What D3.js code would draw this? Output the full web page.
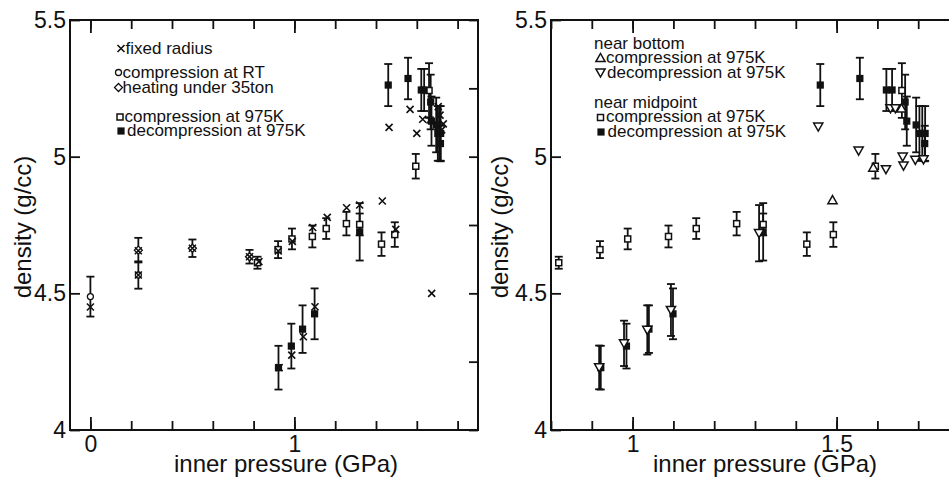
<!DOCTYPE html>
<html><head><meta charset="utf-8">
<script src="https://cdn.jsdelivr.net/npm/d3@7"></script>
<style>
body{margin:0;background:#fff}
svg{display:block}
text{font-family:"Liberation Sans",Arial,Helvetica,sans-serif;fill:#111}
</style>
</head><body>
<svg id="c" width="949" height="479"></svg>
<script>
// ---------- DATA (pressure in GPa, density in g/cc) ----------
const fixedRadiusP = [0, 0.235, 0.235, 0.5, 0.78, 0.826, 0.921, 0.99, 1.09, 1.161, 1.256, 1.32, 1.431, 1.497,
  0.925, 0.987, 1.044, 1.101, 1.464, 1.567, 1.60, 1.629, 1.665, 1.705, 1.714, 1.705, 1.722, 1.73, 1.673];
const fixedRadiusD = [4.45, 4.567, 4.656, 4.665, 4.634, 4.616, 4.655, 4.69, 4.741, 4.778, 4.813, 4.823, 4.838, 4.734,
  4.228, 4.274, 4.341, 4.451, 5.107, 5.173, 5.085, 5.137, 5.134, 5.183, 5.152, 5.11, 5.098, 5.12, 4.5];

const rtP = [0, 0.235];
const rtD = [4.488, 4.567];
const rtE = [0.073, 0.05];

const heatP = [0.235, 0.5, 0.78];
const heatD = [4.658, 4.665, 4.634];
const heatE = [0.045, 0.032, 0.025];

const comp975P = [0.819, 0.92, 0.988, 1.088, 1.156, 1.255, 1.32, 1.427, 1.492, 1.595, 1.66];
const comp975D = [4.612, 4.66, 4.699, 4.708, 4.737, 4.755, 4.752, 4.68, 4.715, 4.965, 5.242];
const comp975E = [0.022, 0.031, 0.038, 0.04, 0.038, 0.043, 0.04, 0.043, 0.045, 0.045, 0.1];

const decomp975P = [1.46, 1.557, 1.622, 1.636, 1.668, 1.672, 1.695, 1.703, 1.71, 1.717, 1.716, 1.32, 1.099, 1.04, 0.985, 0.922];
const decomp975D = [5.262, 5.286, 5.244, 5.244, 5.2, 5.13, 5.116, 5.085, 5.085, 5.085, 5.048, 4.725, 4.425, 4.369, 4.307, 4.228];
const decomp975E = [0.077, 0.076, 0.077, 0.077, 0.1, 0.09, 0.1, 0.1, 0.1, 0.1, 0.065, 0.105, 0.093, 0.087, 0.082, 0.08];

const bottomCompP = [1.49, 1.59, 1.659];
const bottomCompD = [4.841, 4.96, 5.177];

const bottomDecompP = [1.455, 1.554, 1.621, 1.632, 1.644, 1.662, 1.664, 1.693, 1.713, 1.31, 1.094, 1.036, 0.979, 0.918];
const bottomDecompD = [5.11, 5.022, 4.954, 5.177, 5.177, 5.0, 4.967, 4.988, 4.99, 4.72, 4.439, 4.366, 4.317, 4.229];
const bottomDecompE = [null, null, null, null, null, null, null, null, null, 0.103, 0.095, 0.09, 0.083, 0.08];

const yTickLabels = [4, 4.5, 5, 5.5];
const yMinorTicks = [4, 4.25, 4.5, 4.75, 5, 5.25, 5.5];
const leftXLabels = [0, 1];
const leftXMinor = [0, 0.2, 0.4, 0.6, 0.8, 1.0, 1.2, 1.4, 1.6, 1.8];
const rightXLabels = [1, 1.5];
const rightXMinor = [0.8, 0.9, 1.0, 1.1, 1.2, 1.3, 1.4, 1.5, 1.6, 1.7, 1.8];

const xTitle = "inner pressure (GPa)";
const yTitle = "density (g/cc)";

// ---------- SETUP ----------
const svg = d3.select("#c");
const plotTop = 20, plotBottom = 430;
const y = d3.scaleLinear().domain([4, 5.5]).range([plotBottom, plotTop]);
const xL = d3.scaleLinear().domain([-0.1, 1.9]).range([70, 478]);
const xR = d3.scaleLinear().domain([0.8, 1.8]).range([551, 959]);

const FS = 24, TFS = 23;

function marker(g, type, cx, cy) {
  const m = g.append("g").attr("transform", `translate(${cx},${cy})`);
  switch (type) {
    case "x":
      m.append("path").attr("d", "M-3.5,-3.5L3.5,3.5M-3.5,3.5L3.5,-3.5")
        .attr("stroke", "#111").attr("stroke-width", 1.6).attr("fill", "none"); break;
    case "circle":
      m.append("circle").attr("r", 3).attr("fill", "#fff").attr("stroke", "#111").attr("stroke-width", 1.3); break;
    case "diamond":
      m.append("path").attr("d", "M0,-4L4,0L0,4L-4,0Z").attr("fill", "#fff").attr("stroke", "#111").attr("stroke-width", 1.3); break;
    case "sqOpen":
      m.append("rect").attr("x", -3).attr("y", -3).attr("width", 6).attr("height", 6)
        .attr("fill", "#fff").attr("stroke", "#111").attr("stroke-width", 1.5); break;
    case "sqFill":
      m.append("rect").attr("x", -3.6).attr("y", -3.6).attr("width", 7.2).attr("height", 7.2).attr("fill", "#111"); break;
    case "triUp":
      m.append("path").attr("d", "M0,-4.5L4.6,3.6L-4.6,3.6Z").attr("fill", "#fff").attr("stroke", "#111").attr("stroke-width", 1.5); break;
    case "triDown":
      m.append("path").attr("d", "M0,4.5L4.6,-3.6L-4.6,-3.6Z").attr("fill", "#fff").attr("stroke", "#111").attr("stroke-width", 1.5); break;
  }
}

function errBars(g, x, P, D, E) {
  P.forEach((p, i) => {
    const e = E[i];
    if (e == null) return;
    const cx = x(p), y1 = y(D[i] + e), y2 = y(D[i] - e);
    g.append("line").attr("x1", cx).attr("x2", cx).attr("y1", y1).attr("y2", y2)
      .attr("stroke", "#111").attr("stroke-width", 1.8);
    [y1, y2].forEach(yy => g.append("line").attr("x1", cx - 4).attr("x2", cx + 4).attr("y1", yy).attr("y2", yy)
      .attr("stroke", "#111").attr("stroke-width", 1.8));
  });
}

function points(g, x, P, D, type) {
  P.forEach((p, i) => marker(g, type, x(p), y(D[i])));
}

function styleAxis(sel) {
  sel.select(".domain").remove();
  sel.selectAll(".tick line").attr("stroke", "#111").attr("stroke-width", 1.8);
  sel.selectAll(".tick text").attr("font-size", TFS).attr("fill", "#111")
    .style("font-family", '"Liberation Sans", Arial, sans-serif');
}

function drawAxes(x, x0, x1, minorX, labelsX, withRight) {
  svg.append("g").attr("transform", `translate(0,${plotBottom})`)
    .call(d3.axisBottom(x).tickValues(minorX).tickSize(-9).tickFormat("")).call(styleAxis);
  svg.append("g").attr("transform", `translate(0,${plotBottom})`)
    .call(d3.axisBottom(x).tickValues(labelsX).tickSize(-13).tickPadding(6).tickFormat(d => String(d))).call(styleAxis);
  svg.append("g").attr("transform", `translate(0,${plotTop})`)
    .call(d3.axisTop(x).tickValues(minorX).tickSize(-9).tickFormat("")).call(styleAxis);
  svg.append("g").attr("transform", `translate(0,${plotTop})`)
    .call(d3.axisTop(x).tickValues(labelsX).tickSize(-13).tickFormat("")).call(styleAxis);
  svg.append("g").attr("transform", `translate(${x0},0)`)
    .call(d3.axisLeft(y).tickValues(yTickLabels).tickSize(-10).tickPadding(4).tickFormat(d => String(d))).call(styleAxis);
  if (withRight) {
    svg.append("g").attr("transform", `translate(${x1},0)`)
      .call(d3.axisRight(y).tickValues(yMinorTicks).tickSize(-9).tickFormat("")).call(styleAxis);
  }
  svg.append("rect").attr("x", x0).attr("y", plotTop).attr("width", x1 - x0).attr("height", plotBottom - plotTop)
    .attr("fill", "none").attr("stroke", "#111").attr("stroke-width", 2);
}

const defs = svg.append("defs");
defs.append("clipPath").attr("id", "clipL").append("rect").attr("x", 70).attr("y", plotTop).attr("width", 408).attr("height", plotBottom - plotTop);
defs.append("clipPath").attr("id", "clipR").append("rect").attr("x", 551).attr("y", plotTop).attr("width", 408).attr("height", plotBottom - plotTop);

// ---------- LEFT PANEL ----------
drawAxes(xL, 70, 478, leftXMinor, leftXLabels, true);
const gL = svg.append("g").attr("clip-path", "url(#clipL)");
errBars(gL, xL, rtP, rtD, rtE);
errBars(gL, xL, heatP, heatD, heatE);
errBars(gL, xL, comp975P, comp975D, comp975E);
errBars(gL, xL, decomp975P, decomp975D, decomp975E);
points(gL, xL, rtP, rtD, "circle");
points(gL, xL, heatP, heatD, "diamond");
points(gL, xL, comp975P, comp975D, "sqOpen");
points(gL, xL, decomp975P, decomp975D, "sqFill");
points(gL, xL, fixedRadiusP, fixedRadiusD, "x");

svg.append("text").attr("x", 286).attr("y", 472).attr("text-anchor", "middle").attr("font-size", FS).text(xTitle);
svg.append("text").attr("transform", "translate(31,227) rotate(-90)").attr("text-anchor", "middle").attr("font-size", FS).text(yTitle);

const LF = 17;
const legL = svg.append("g");
[["x", 121, 48.5, 125.5, 54, "fixed radius"],
 ["circle", 118.5, 72.5, 122.5, 77.5, "compression at RT"],
 ["diamond", 118.5, 87.5, 122.5, 92.5, "heating under 35ton"],
 ["sqOpen", 120, 117, 124.5, 122, "compression at 975K"],
 ["sqFill", 121, 131, 127, 136, "decompression at 975K"]].forEach(r => {
  marker(legL, r[0], r[1], r[2]);
  legL.append("text").attr("x", r[3]).attr("y", r[4]).attr("font-size", LF).text(r[5]);
});

// ---------- RIGHT PANEL ----------
drawAxes(xR, 551, 959, rightXMinor, rightXLabels, false);
const gR = svg.append("g").attr("clip-path", "url(#clipR)");
errBars(gR, xR, comp975P, comp975D, comp975E);
errBars(gR, xR, decomp975P, decomp975D, decomp975E);
errBars(gR, xR, bottomDecompP, bottomDecompD, bottomDecompE);
points(gR, xR, comp975P, comp975D, "sqOpen");
points(gR, xR, decomp975P, decomp975D, "sqFill");
points(gR, xR, bottomCompP, bottomCompD, "triUp");
points(gR, xR, bottomDecompP, bottomDecompD, "triDown");

svg.append("text").attr("x", 765).attr("y", 472).attr("text-anchor", "middle").attr("font-size", FS).text(xTitle);
svg.append("text").attr("transform", "translate(508,227) rotate(-90)").attr("text-anchor", "middle").attr("font-size", FS).text(yTitle);

const legR = svg.append("g");
legR.append("text").attr("x", 594).attr("y", 48.5).attr("font-size", LF).text("near bottom");
legR.append("text").attr("x", 594).attr("y", 107.5).attr("font-size", LF).text("near midpoint");
[["triUp", 600.5, 58, 606, 63, "compression at 975K"],
 ["triDown", 600.5, 72.5, 607, 77.5, "decompression at 975K"],
 ["sqOpen", 600.5, 117.5, 606, 122, "compression at 975K"],
 ["sqFill", 601, 132, 607.5, 137, "decompression at 975K"]].forEach(r => {
  marker(legR, r[0], r[1], r[2]);
  legR.append("text").attr("x", r[3]).attr("y", r[4]).attr("font-size", LF).text(r[5]);
});
</script>
</body></html>
